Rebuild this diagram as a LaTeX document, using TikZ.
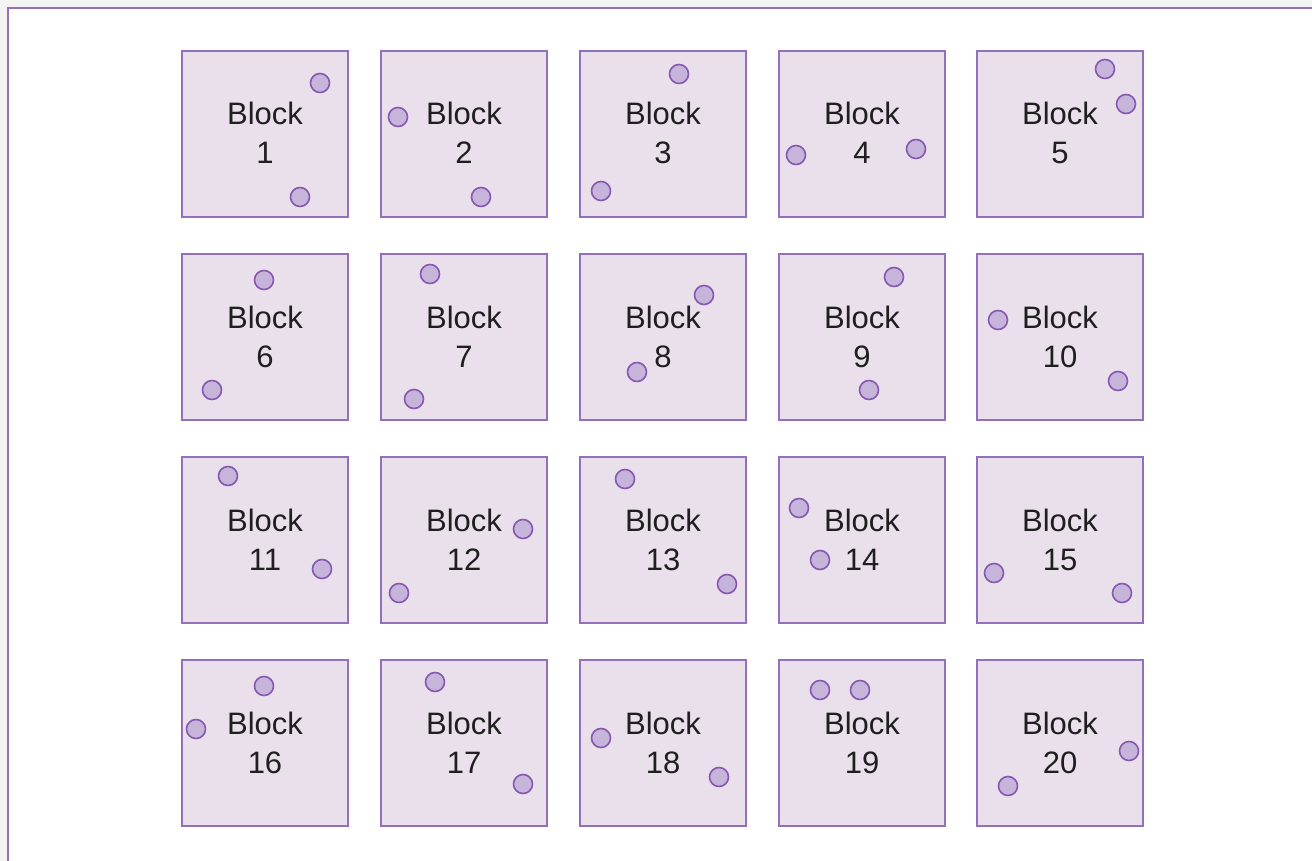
\documentclass[tikz,border=0pt]{standalone}
\usepackage{fontspec}
\setmainfont{Liberation Sans}
\definecolor{boxfill}{HTML}{EAE0EC}
\definecolor{boxline}{HTML}{9270BC}
\definecolor{dotfill}{HTML}{C7B4DA}
\definecolor{dotline}{HTML}{8558B2}
\definecolor{pagebg}{HTML}{F3F3F3}
\tikzset{
  blockbox/.style={draw=boxline, line width=2pt, fill=boxfill, minimum width=166pt, minimum height=166pt, inner sep=0pt, anchor=north west},
  blocktext/.style={anchor=base, inner sep=0pt, font=\fontsize{31}{38}\selectfont, text=black!88},
  dot/.style={circle, draw=dotline, line width=1.6pt, fill=dotfill, minimum size=19pt, inner sep=0pt},
  frame/.style={draw=boxline, line width=2pt, fill=white}
}
\begin{document}
\begin{tikzpicture}[x=1pt,y=-1pt]
\useasboundingbox (0,0) rectangle (1312,861);
\fill[pagebg] (0,0) rectangle (1312,861);
\draw[frame] (8,8) rectangle (1330,880);
\foreach \n/\x/\y in {1/181/50,2/380/50,3/579/50,4/778/50,5/976/50,
                      6/181/253,7/380/253,8/579/253,9/778/253,10/976/253,
                      11/181/456,12/380/456,13/579/456,14/778/456,15/976/456,
                      16/181/659,17/380/659,18/579/659,19/778/659,20/976/659}{
  \node[blockbox] (b\n) at (\x,\y) {};
  \node[blocktext] (t\n) at ([yshift=9pt]b\n.center) {Block};
  \node[blocktext] (n\n) at ([yshift=-30pt]b\n.center) {\n};
}
\foreach \i/\x/\y in {a1/320/83, c1/300/197,
                      a2/398/117, c2/481/197,
                      a3/679/74, c3/601/191,
                      a4/796/155, c4/916/149,
                      a5/1105/69, c5/1126/104,
                      a6/264/280, c6/212/390,
                      a7/430/274, c7/414/399,
                      a8/704/295, c8/637/372,
                      a9/894/277, c9/869/390,
                      a10/998/320, c10/1118/381,
                      a11/228/476, c11/322/569,
                      a12/523/529, c12/399/593,
                      a13/625/479, c13/727/584,
                      a14/799/508, c14/820/560,
                      a15/994/573, c15/1122/593,
                      a16/264/686, c16/196/729,
                      a17/435/682, c17/523/784,
                      a18/601/738, c18/719/777,
                      a19/820/690, c19/860/690,
                      a20/1129/751, c20/1008/786}{
  \node[dot] (d\i) at (\x,\y) {};
}
\end{tikzpicture}
\end{document}
